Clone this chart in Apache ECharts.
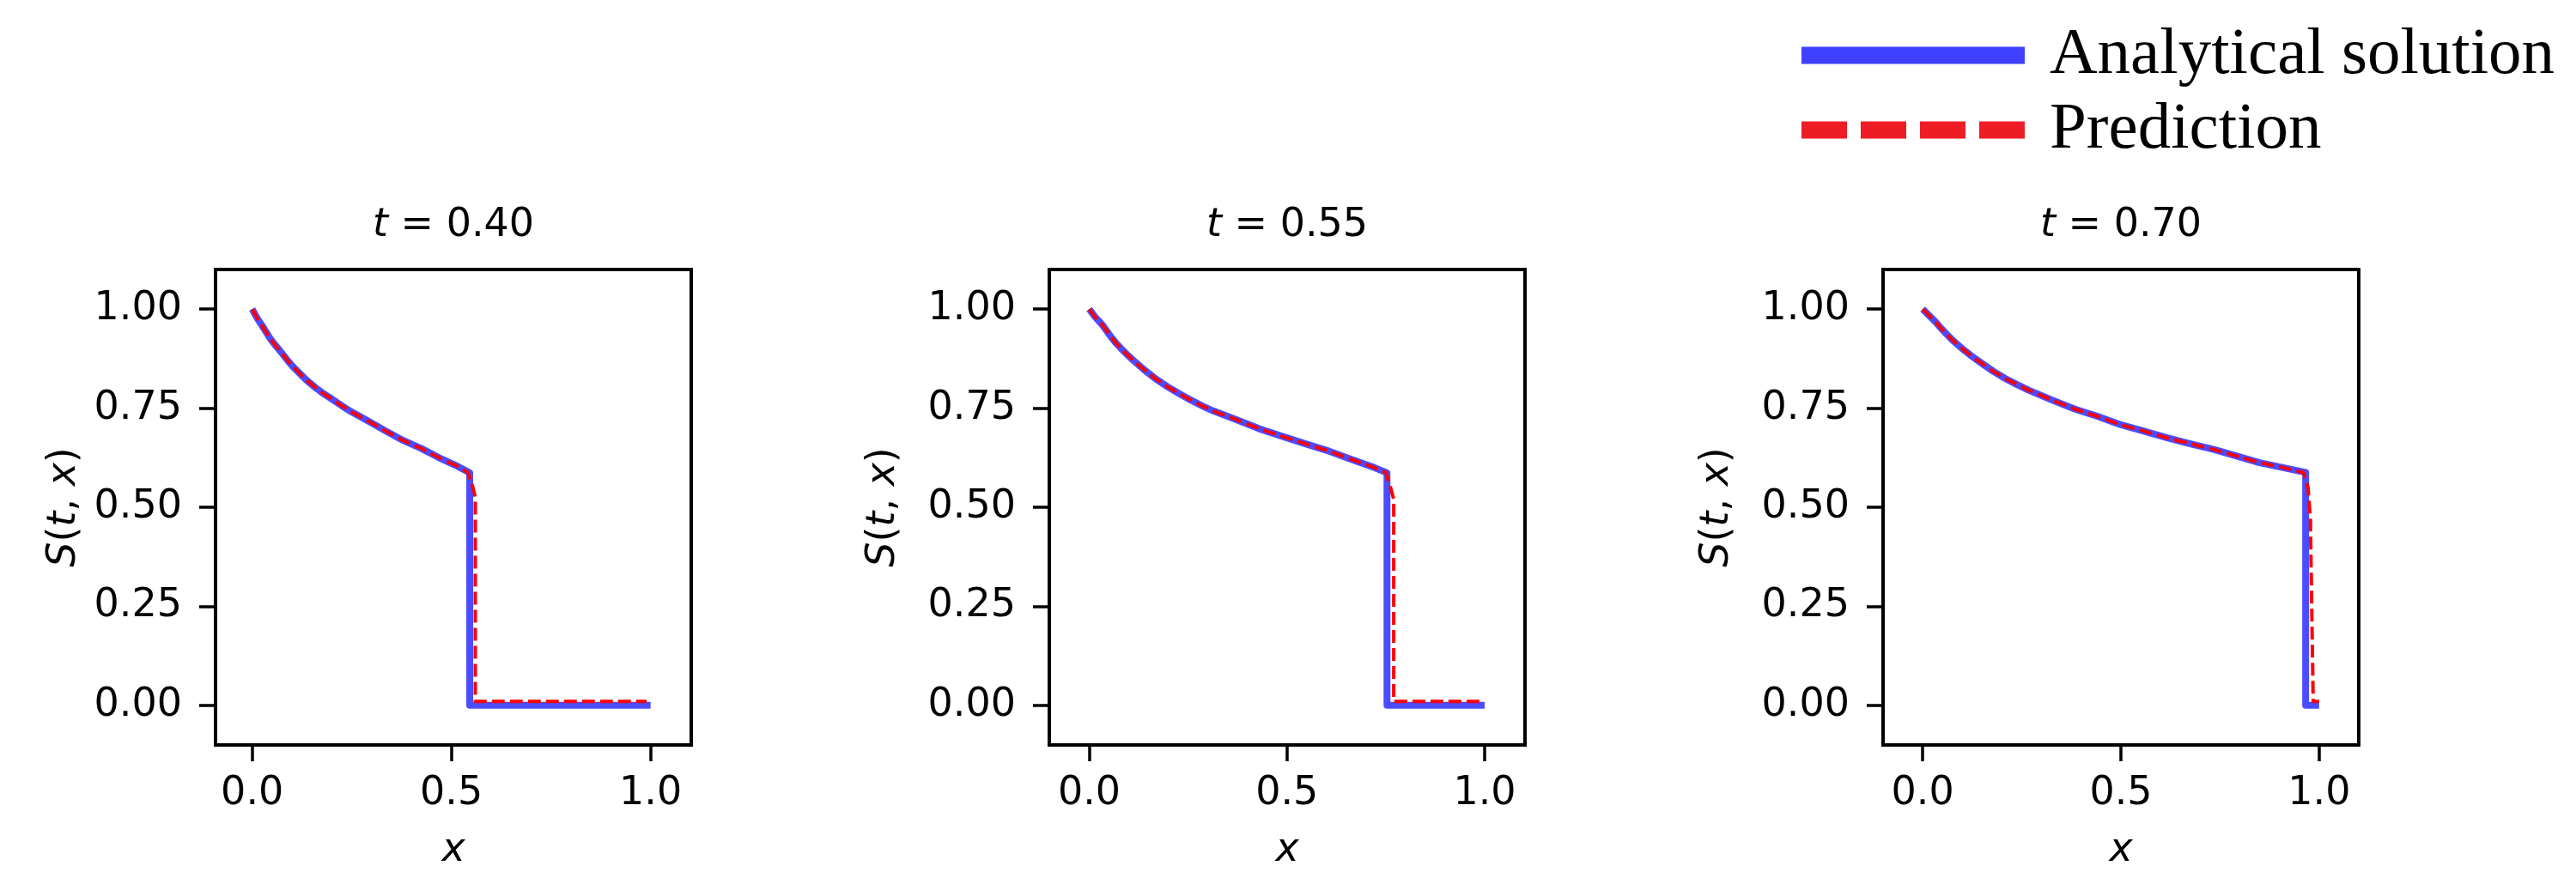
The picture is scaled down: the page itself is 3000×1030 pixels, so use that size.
<!DOCTYPE html>
<html><head><meta charset="utf-8">
<script src="https://cdn.jsdelivr.net/npm/echarts@6/dist/echarts.min.js"></script>
<style>html,body{margin:0;padding:0;background:#fff}#c{width:3000px;height:1030px}</style>
</head><body><div id="c"></div>
<script>
// ---- data ----
const panelTimes = ['0.40', '0.55', '0.70'];
const seriesNames = ['Analytical solution', 'Prediction'];
const xTicks = [0, 0.5, 1.0];
const xTickLabels = ['0.0', '0.5', '1.0'];
const yTicks = [0, 0.25, 0.5, 0.75, 1.0];
const yTickLabels = ['0.00', '0.25', '0.50', '0.75', '1.00'];

// t = 0.40
const analyticX1 = [0, 0.012, 0.025, 0.035, 0.045, 0.057, 0.069, 0.08, 0.09, 0.102, 0.114, 0.135, 0.158, 0.18, 0.203, 0.225, 0.247, 0.292, 0.336, 0.38, 0.425, 0.469, 0.514, 0.546, 0.546, 1.0];
const analyticS1 = [1.0, 0.978, 0.958, 0.942, 0.926, 0.91, 0.896, 0.882, 0.869, 0.855, 0.843, 0.822, 0.8025, 0.786, 0.771, 0.756, 0.742, 0.717, 0.692, 0.668, 0.648, 0.625, 0.604, 0.587, 0.0, 0.0];
const predX1 = [0, 0.012, 0.025, 0.035, 0.045, 0.057, 0.069, 0.08, 0.09, 0.102, 0.114, 0.135, 0.158, 0.18, 0.203, 0.225, 0.247, 0.292, 0.336, 0.38, 0.425, 0.469, 0.514, 0.541, 0.554, 0.56, 0.56, 0.99];
const predS1 = [1.0, 0.978, 0.958, 0.942, 0.926, 0.91, 0.896, 0.882, 0.869, 0.855, 0.843, 0.822, 0.8025, 0.786, 0.771, 0.756, 0.742, 0.717, 0.692, 0.668, 0.648, 0.625, 0.604, 0.588, 0.55, 0.525, 0.01, 0.01];

// t = 0.55
const analyticX2 = [0, 0.015, 0.035, 0.055, 0.068, 0.081, 0.095, 0.11, 0.125, 0.14, 0.168, 0.198, 0.227, 0.256, 0.285, 0.314, 0.372, 0.43, 0.488, 0.547, 0.605, 0.663, 0.721, 0.753, 0.753, 1.0];
const analyticS2 = [1.0, 0.98, 0.958, 0.93, 0.914, 0.9, 0.886, 0.872, 0.859, 0.846, 0.824, 0.804, 0.787, 0.771, 0.756, 0.743, 0.721, 0.698, 0.679, 0.66, 0.642, 0.621, 0.6, 0.587, 0.0, 0.0];
const predX2 = [0, 0.015, 0.035, 0.055, 0.068, 0.081, 0.095, 0.11, 0.125, 0.14, 0.168, 0.198, 0.227, 0.256, 0.285, 0.314, 0.372, 0.43, 0.488, 0.547, 0.605, 0.663, 0.721, 0.75, 0.762, 0.77, 0.77, 0.995];
const predS2 = [1.0, 0.98, 0.958, 0.93, 0.914, 0.9, 0.886, 0.872, 0.859, 0.846, 0.824, 0.804, 0.787, 0.771, 0.756, 0.743, 0.721, 0.698, 0.679, 0.66, 0.642, 0.621, 0.6, 0.588, 0.55, 0.52, 0.01, 0.01];

// t = 0.70
const analyticX3 = [0, 0.015, 0.033, 0.047, 0.06, 0.075, 0.091, 0.105, 0.12, 0.135, 0.15, 0.178, 0.208, 0.237, 0.266, 0.325, 0.383, 0.442, 0.5, 0.558, 0.617, 0.675, 0.734, 0.792, 0.85, 0.909, 0.966, 0.966, 1.0];
const analyticS3 = [1.0, 0.985, 0.967, 0.951, 0.937, 0.922, 0.908, 0.896, 0.884, 0.873, 0.8625, 0.843, 0.825, 0.81, 0.796, 0.771, 0.748, 0.729, 0.708, 0.692, 0.675, 0.66, 0.646, 0.629, 0.6125, 0.6, 0.588, 0.0, 0.0];
const predX3 = [0, 0.015, 0.033, 0.047, 0.06, 0.075, 0.091, 0.105, 0.12, 0.135, 0.15, 0.178, 0.208, 0.237, 0.266, 0.325, 0.383, 0.442, 0.5, 0.558, 0.617, 0.675, 0.734, 0.792, 0.85, 0.909, 0.96, 0.972, 0.978, 0.985, 1.0];
const predS3 = [1.0, 0.985, 0.967, 0.951, 0.937, 0.922, 0.908, 0.896, 0.884, 0.873, 0.8625, 0.843, 0.825, 0.81, 0.796, 0.771, 0.748, 0.729, 0.708, 0.692, 0.675, 0.66, 0.646, 0.629, 0.6125, 0.6, 0.588, 0.55, 0.47, 0.01, 0.01];

// axis extents per panel
const xMin = [-0.092, -0.101, -0.1];
const xMax = [1.102, 1.102, 1.1];
const yMin = -0.1, yMax = 1.1;

// ---- build ----
const analytic = [[analyticX1, analyticS1], [analyticX2, analyticS2], [analyticX3, analyticS3]];
const pred = [[predX1, predS1], [predX2, predS2], [predX3, predS3]];
const pairs = (xs, ys) => xs.map((x, i) => [x, ys[i]]);
const lookup = (ticks, labels) => v => {
  for (let i = 0; i < ticks.length; i++) if (Math.abs(ticks[i] - v) < 1e-9) return labels[i];
  return '';
};

const FONT = 'DejaVu Sans';
const FS = 46;
const gridLefts = [251, 1222, 2193];
const gridTop = 314, gridSize = 554;
const yNameGaps = [153, 170, 170];

const grids = [], xAxes = [], yAxes = [], titles = [], series = [];
for (let i = 0; i < 3; i++) {
  grids.push({left: gridLefts[i], top: gridTop, width: gridSize, height: gridSize,
    show: true, borderColor: '#000', borderWidth: 4, backgroundColor: '#fff',
    containLabel: false, outerBoundsMode: 'none'});
  xAxes.push({type: 'value', gridIndex: i, min: xMin[i], max: xMax[i],
    axisLine: {show: true, onZero: false, lineStyle: {color: '#000', width: 4}},
    axisTick: {show: true, customValues: xTicks, length: 19, lineStyle: {color: '#000', width: 3.5}},
    axisLabel: {customValues: xTicks, formatter: lookup(xTicks, xTickLabels), margin: 34,
      fontFamily: FONT, fontSize: FS, color: '#000'},
    splitLine: {show: false},
    name: 'x', nameLocation: 'middle', nameGap: 100,
    nameTextStyle: {fontFamily: FONT, fontSize: FS, fontStyle: 'italic', color: '#000'}});
  yAxes.push({type: 'value', gridIndex: i, min: yMin, max: yMax,
    axisLine: {show: true, onZero: false, lineStyle: {color: '#000', width: 4}},
    axisTick: {show: true, customValues: yTicks, length: 19, lineStyle: {color: '#000', width: 3.5}},
    axisLabel: {customValues: yTicks, formatter: lookup(yTicks, yTickLabels), margin: 39,
      fontFamily: FONT, fontSize: FS, color: '#000'},
    splitLine: {show: false},
    name: '{i|S}({i|t}, {i|x})', nameLocation: 'middle', nameGap: yNameGaps[i], nameRotate: 90,
    nameTextStyle: {fontFamily: FONT, fontSize: FS, color: '#000',
      rich: {i: {fontFamily: FONT, fontSize: FS, fontStyle: 'italic', color: '#000'}}}});
  titles.push({text: '{i|t} = ' + panelTimes[i], left: gridLefts[i] + gridSize / 2, top: 240,
    textAlign: 'center', padding: 0,
    textStyle: {fontFamily: FONT, fontSize: FS, fontWeight: 'normal', color: '#000',
      rich: {i: {fontFamily: FONT, fontSize: FS, fontStyle: 'italic', color: '#000'}}}});
  series.push({name: seriesNames[0], type: 'line', xAxisIndex: i, yAxisIndex: i,
    data: pairs(analytic[i][0], analytic[i][1]), showSymbol: false, symbol: 'none',
    color: '#0000ff', itemStyle: {color: '#0000ff'},
    lineStyle: {color: '#0000ff', width: 8, opacity: 0.7, cap: 'butt', join: 'round'},
    z: 2, silent: true, animation: false});
  series.push({name: seriesNames[1], type: 'line', xAxisIndex: i, yAxisIndex: i,
    data: pairs(pred[i][0], pred[i][1]), showSymbol: false, symbol: 'none',
    color: '#ff0000', itemStyle: {color: '#ff0000'},
    lineStyle: {color: '#ff0000', width: 4, type: [15, 6], cap: 'butt', join: 'round'},
    z: 3, silent: true, animation: false});
}

const option = {
  backgroundColor: '#fff',
  animation: false,
  title: titles,
  grid: grids, xAxis: xAxes, yAxis: yAxes, series: series,
  legend: {
    orient: 'vertical', left: 2098, top: 26, padding: 0, itemGap: 10,
    itemWidth: 260, itemHeight: 20, selectedMode: false,
    textStyle: {fontFamily: 'Liberation Serif', fontSize: 77, lineHeight: 58, color: '#000', padding: [0, 0, 16, 24]},
    data: [
      {name: seriesNames[0], icon: 'rect', itemStyle: {color: '#4040ff', borderWidth: 0, opacity: 1},
        textStyle: {fontFamily: 'Liberation Serif', fontSize: 77, lineHeight: 50, color: '#000', padding: [0, 0, 24, 24]}},
      {name: seriesNames[1], icon: 'path://M0,0h53v20h-53zM69,0h53v20h-53zM138,0h53v20h-53zM207,0h53v20h-53z',
        itemStyle: {color: '#ee1c25', borderWidth: 0, opacity: 1},
        textStyle: {fontFamily: 'Liberation Serif', fontSize: 77, lineHeight: 66, color: '#000', padding: [0, 0, 8, 24]}}
    ]
  }
};
const chart = echarts.init(document.getElementById('c'), null, {renderer: 'canvas'});
chart.setOption(option);
</script></body></html>
